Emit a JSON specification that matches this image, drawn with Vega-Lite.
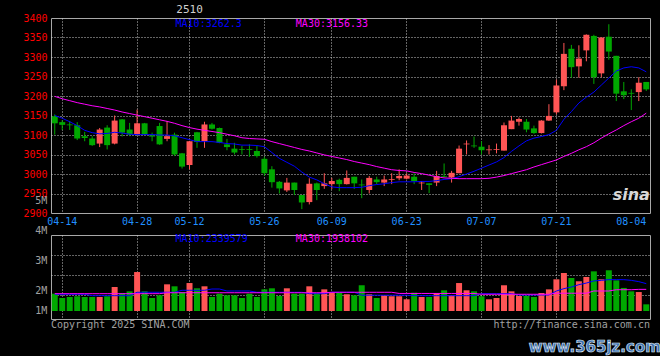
{
  "$schema": "https://vega.github.io/schema/vega-lite/v6.json",
  "background": "#000000",
  "padding": {"left": 22, "top": 3, "right": 0, "bottom": 0},
  "spacing": 22,
  "bounds": "flush",
  "config": {
    "view": {"stroke": "#A8A8A8", "strokeWidth": 1, "fill": "#000000"},
    "axis": {"labelFont": "DejaVu Sans Mono", "labelFontSize": 10, "ticks": false, "domain": false, "title": null, "gridColor": "#C8C8C8", "gridDash": [1, 2], "gridWidth": 1, "labelOverlap": false, "labelFlush": false},
    "text": {"font": "DejaVu Sans Mono", "fontSize": 10}
  },
  "datasets": {
    "k": [
      {"d":"04-11","o":3148,"h":3153,"l":3101,"c":3130,"v":1.48,"m10":3150,"m30":3199,"vm10":1.43,"vm30":1.48},
      {"d":"04-14","o":3133,"h":3138,"l":3113,"c":3126,"v":1.11,"m10":3143,"m30":3193,"vm10":1.43,"vm30":1.48},
      {"d":"04-15","o":3127,"h":3136,"l":3113,"c":3125,"v":1.20,"m10":3134,"m30":3188,"vm10":1.43,"vm30":1.48},
      {"d":"04-16","o":3125,"h":3133,"l":3087,"c":3091,"v":1.26,"m10":3124,"m30":3183,"vm10":1.43,"vm30":1.48},
      {"d":"04-17","o":3097,"h":3108,"l":3084,"c":3092,"v":1.20,"m10":3112,"m30":3179,"vm10":1.43,"vm30":1.48},
      {"d":"04-18","o":3091,"h":3097,"l":3072,"c":3074,"v":1.20,"m10":3106,"m30":3175,"vm10":1.31,"vm30":1.48},
      {"d":"04-21","o":3078,"h":3118,"l":3069,"c":3114,"v":1.20,"m10":3103,"m30":3172,"vm10":1.31,"vm30":1.48},
      {"d":"04-22","o":3119,"h":3125,"l":3063,"c":3074,"v":1.26,"m10":3104,"m30":3168,"vm10":1.31,"vm30":1.48},
      {"d":"04-23","o":3078,"h":3150,"l":3076,"c":3137,"v":2.05,"m10":3107,"m30":3164,"vm10":1.31,"vm30":1.48},
      {"d":"04-24","o":3140,"h":3141,"l":3096,"c":3106,"v":1.54,"m10":3105,"m30":3159,"vm10":1.31,"vm30":1.48},
      {"d":"04-25","o":3114,"h":3131,"l":3097,"c":3101,"v":1.68,"m10":3102,"m30":3155,"vm10":1.31,"vm30":1.48},
      {"d":"04-28","o":3102,"h":3165,"l":3100,"c":3130,"v":3.33,"m10":3101,"m30":3151,"vm10":1.60,"vm30":1.48},
      {"d":"04-29","o":3130,"h":3131,"l":3100,"c":3101,"v":1.68,"m10":3101,"m30":3147,"vm10":1.60,"vm30":1.48},
      {"d":"04-30","o":3099,"h":3106,"l":3084,"c":3096,"v":1.11,"m10":3101,"m30":3143,"vm10":1.60,"vm30":1.48},
      {"d":"05-06","o":3123,"h":3131,"l":3075,"c":3076,"v":1.34,"m10":3100,"m30":3139,"vm10":1.60,"vm30":1.48},
      {"d":"05-07","o":3090,"h":3136,"l":3084,"c":3097,"v":2.28,"m10":3100,"m30":3135,"vm10":1.60,"vm30":1.56},
      {"d":"05-08","o":3101,"h":3106,"l":3046,"c":3050,"v":2.11,"m10":3098,"m30":3130,"vm10":1.60,"vm30":1.56},
      {"d":"05-09","o":3053,"h":3054,"l":3014,"c":3019,"v":1.62,"m10":3093,"m30":3124,"vm10":1.77,"vm30":1.56},
      {"d":"05-12","o":3023,"h":3085,"l":3012,"c":3084,"v":2.39,"m10":3088,"m30":3119,"vm10":1.77,"vm30":1.56},
      {"d":"05-13","o":3107,"h":3108,"l":3067,"c":3082,"v":1.94,"m10":3083,"m30":3115,"vm10":1.77,"vm30":1.56},
      {"d":"05-14","o":3084,"h":3134,"l":3067,"c":3127,"v":2.11,"m10":3083,"m30":3112,"vm10":1.77,"vm30":1.56},
      {"d":"05-15","o":3127,"h":3131,"l":3114,"c":3116,"v":1.20,"m10":3083,"m30":3109,"vm10":1.88,"vm30":1.56},
      {"d":"05-16","o":3118,"h":3119,"l":3079,"c":3080,"v":1.48,"m10":3081,"m30":3106,"vm10":1.88,"vm30":1.56},
      {"d":"05-19","o":3076,"h":3090,"l":3061,"c":3069,"v":1.34,"m10":3078,"m30":3102,"vm10":1.71,"vm30":1.56},
      {"d":"05-20","o":3065,"h":3080,"l":3050,"c":3055,"v":1.34,"m10":3077,"m30":3098,"vm10":1.71,"vm30":1.56},
      {"d":"05-21","o":3064,"h":3072,"l":3050,"c":3062,"v":1.11,"m10":3074,"m30":3093,"vm10":1.71,"vm30":1.56},
      {"d":"05-22","o":3064,"h":3076,"l":3044,"c":3062,"v":1.48,"m10":3074,"m30":3091,"vm10":1.71,"vm30":1.56},
      {"d":"05-23","o":3059,"h":3072,"l":3042,"c":3046,"v":1.20,"m10":3073,"m30":3090,"vm10":1.60,"vm30":1.56},
      {"d":"05-26","o":3039,"h":3044,"l":2995,"c":3002,"v":1.85,"m10":3070,"m30":3089,"vm10":1.60,"vm30":1.56},
      {"d":"05-27","o":3012,"h":3020,"l":2965,"c":2979,"v":1.94,"m10":3055,"m30":3083,"vm10":1.60,"vm30":1.56},
      {"d":"05-28","o":2980,"h":2982,"l":2950,"c":2963,"v":1.28,"m10":3040,"m30":3078,"vm10":1.60,"vm30":1.56},
      {"d":"05-29","o":2958,"h":2990,"l":2954,"c":2978,"v":1.94,"m10":3030,"m30":3073,"vm10":1.60,"vm30":1.56},
      {"d":"05-30","o":2978,"h":2978,"l":2946,"c":2959,"v":1.48,"m10":3020,"m30":3068,"vm10":1.60,"vm30":1.56},
      {"d":"06-03","o":2946,"h":2946,"l":2910,"c":2927,"v":1.48,"m10":3005,"m30":3063,"vm10":1.60,"vm30":1.56},
      {"d":"06-04","o":2928,"h":2989,"l":2922,"c":2975,"v":2.11,"m10":2992,"m30":3059,"vm10":1.48,"vm30":1.56},
      {"d":"06-05","o":2976,"h":2978,"l":2933,"c":2959,"v":1.54,"m10":2985,"m30":3054,"vm10":1.48,"vm30":1.56},
      {"d":"06-06","o":2969,"h":3002,"l":2962,"c":2976,"v":1.85,"m10":2975,"m30":3049,"vm10":1.48,"vm30":1.56},
      {"d":"06-09","o":2974,"h":2990,"l":2961,"c":2982,"v":1.62,"m10":2967,"m30":3045,"vm10":1.60,"vm30":1.60},
      {"d":"06-10","o":2985,"h":2988,"l":2956,"c":2974,"v":1.54,"m10":2965,"m30":3041,"vm10":1.60,"vm30":1.60},
      {"d":"06-11","o":2974,"h":3009,"l":2973,"c":2990,"v":1.43,"m10":2965,"m30":3037,"vm10":1.60,"vm30":1.60},
      {"d":"06-12","o":2993,"h":2993,"l":2962,"c":2976,"v":1.34,"m10":2965,"m30":3032,"vm10":1.60,"vm30":1.60},
      {"d":"06-13","o":2973,"h":2986,"l":2938,"c":2971,"v":2.20,"m10":2966,"m30":3028,"vm10":1.35,"vm30":1.60},
      {"d":"06-16","o":2959,"h":2995,"l":2950,"c":2990,"v":1.43,"m10":2970,"m30":3024,"vm10":1.35,"vm30":1.60},
      {"d":"06-17","o":2986,"h":2993,"l":2974,"c":2979,"v":1.11,"m10":2973,"m30":3019,"vm10":1.35,"vm30":1.60},
      {"d":"06-18","o":2978,"h":2996,"l":2969,"c":2986,"v":1.34,"m10":2975,"m30":3015,"vm10":1.35,"vm30":1.60},
      {"d":"06-19","o":2985,"h":3002,"l":2974,"c":2987,"v":1.26,"m10":2978,"m30":3011,"vm10":1.35,"vm30":1.60},
      {"d":"06-20","o":2989,"h":3012,"l":2984,"c":2995,"v":1.26,"m10":2980,"m30":3009,"vm10":1.35,"vm30":1.50},
      {"d":"06-23","o":2988,"h":3002,"l":2986,"c":2996,"v":1.00,"m10":2980,"m30":3008,"vm10":1.35,"vm30":1.50},
      {"d":"06-24","o":2993,"h":3002,"l":2974,"c":2982,"v":1.56,"m10":2980,"m30":3004,"vm10":1.31,"vm30":1.50},
      {"d":"06-25","o":2976,"h":2982,"l":2959,"c":2978,"v":1.20,"m10":2981,"m30":3001,"vm10":1.31,"vm30":1.50},
      {"d":"06-26","o":2976,"h":2976,"l":2951,"c":2972,"v":1.20,"m10":2981,"m30":2997,"vm10":1.31,"vm30":1.50},
      {"d":"06-27","o":2978,"h":3008,"l":2969,"c":2995,"v":1.54,"m10":2983,"m30":2993,"vm10":1.31,"vm30":1.50},
      {"d":"06-30","o":2995,"h":3027,"l":2991,"c":2993,"v":1.77,"m10":2986,"m30":2990,"vm10":1.31,"vm30":1.50},
      {"d":"07-01","o":2991,"h":3008,"l":2978,"c":3003,"v":1.34,"m10":2988,"m30":2989,"vm10":1.31,"vm30":1.50},
      {"d":"07-02","o":3002,"h":3073,"l":3002,"c":3065,"v":2.39,"m10":2993,"m30":2988,"vm10":1.31,"vm30":1.50},
      {"d":"07-03","o":3076,"h":3086,"l":3050,"c":3078,"v":1.77,"m10":3000,"m30":2988,"vm10":1.31,"vm30":1.50},
      {"d":"07-04","o":3073,"h":3096,"l":3067,"c":3071,"v":1.68,"m10":3007,"m30":2988,"vm10":1.31,"vm30":1.50},
      {"d":"07-07","o":3070,"h":3084,"l":3050,"c":3061,"v":1.26,"m10":3015,"m30":2988,"vm10":1.48,"vm30":1.43},
      {"d":"07-08","o":3061,"h":3074,"l":3050,"c":3063,"v":1.00,"m10":3023,"m30":2989,"vm10":1.48,"vm30":1.43},
      {"d":"07-09","o":3062,"h":3078,"l":3053,"c":3064,"v":1.11,"m10":3031,"m30":2992,"vm10":1.48,"vm30":1.43},
      {"d":"07-10","o":3060,"h":3132,"l":3060,"c":3125,"v":2.20,"m10":3042,"m30":2996,"vm10":1.48,"vm30":1.43},
      {"d":"07-11","o":3115,"h":3149,"l":3115,"c":3137,"v":1.68,"m10":3058,"m30":3001,"vm10":1.48,"vm30":1.43},
      {"d":"07-14","o":3134,"h":3145,"l":3124,"c":3141,"v":1.28,"m10":3072,"m30":3006,"vm10":1.37,"vm30":1.43},
      {"d":"07-15","o":3134,"h":3141,"l":3107,"c":3114,"v":1.28,"m10":3085,"m30":3011,"vm10":1.37,"vm30":1.43},
      {"d":"07-16","o":3117,"h":3124,"l":3103,"c":3105,"v":1.20,"m10":3092,"m30":3018,"vm10":1.37,"vm30":1.43},
      {"d":"07-17","o":3105,"h":3138,"l":3104,"c":3137,"v":1.54,"m10":3096,"m30":3024,"vm10":1.37,"vm30":1.43},
      {"d":"07-18","o":3137,"h":3179,"l":3136,"c":3149,"v":1.85,"m10":3101,"m30":3030,"vm10":1.37,"vm30":1.43},
      {"d":"07-21","o":3158,"h":3242,"l":3153,"c":3227,"v":2.71,"m10":3112,"m30":3036,"vm10":1.71,"vm30":1.52},
      {"d":"07-22","o":3225,"h":3336,"l":3215,"c":3308,"v":3.25,"m10":3140,"m30":3045,"vm10":1.91,"vm30":1.52},
      {"d":"07-23","o":3321,"h":3331,"l":3247,"c":3274,"v":2.82,"m10":3160,"m30":3053,"vm10":2.05,"vm30":1.52},
      {"d":"07-24","o":3276,"h":3330,"l":3247,"c":3296,"v":2.54,"m10":3182,"m30":3062,"vm10":2.25,"vm30":1.52},
      {"d":"07-25","o":3317,"h":3358,"l":3289,"c":3357,"v":2.91,"m10":3197,"m30":3070,"vm10":2.39,"vm30":1.52},
      {"d":"07-28","o":3354,"h":3357,"l":3231,"c":3248,"v":3.39,"m10":3210,"m30":3080,"vm10":2.57,"vm30":1.71},
      {"d":"07-29","o":3258,"h":3350,"l":3248,"c":3350,"v":2.71,"m10":3228,"m30":3092,"vm10":2.62,"vm30":1.71},
      {"d":"07-30","o":3352,"h":3384,"l":3293,"c":3314,"v":3.48,"m10":3246,"m30":3103,"vm10":2.68,"vm30":1.71},
      {"d":"07-31","o":3303,"h":3303,"l":3187,"c":3206,"v":2.62,"m10":3264,"m30":3113,"vm10":2.68,"vm30":1.82},
      {"d":"08-01","o":3212,"h":3236,"l":3192,"c":3202,"v":1.97,"m10":3272,"m30":3124,"vm10":2.68,"vm30":1.82},
      {"d":"08-04","o":3208,"h":3217,"l":3164,"c":3206,"v":1.68,"m10":3275,"m30":3134,"vm10":2.62,"vm30":1.82},
      {"d":"08-05","o":3210,"h":3248,"l":3187,"c":3234,"v":1.62,"m10":3272,"m30":3143,"vm10":2.51,"vm30":1.85},
      {"d":"08-06","o":3236,"h":3236,"l":3213,"c":3217,"v":0.57,"m10":3262,"m30":3156,"vm10":2.34,"vm30":1.85}
    ],
    "vlab": [
      {"t": "1M", "v": 0},
      {"t": "2M", "v": 1.71},
      {"t": "3M", "v": 4.27},
      {"t": "4M", "v": 6.84},
      {"t": "5M", "v": 9.4}
    ]
  },
  "vconcat": [
    {
      "width": 599,
      "height": 195,
      "encoding": {
        "x": {
          "field": "d", "type": "ordinal", "sort": null,
          "scale": {"type": "band", "paddingInner": 0.2, "paddingOuter": 0.1},
          "axis": {
            "values": ["04-14","04-28","05-12","05-26","06-09","06-23","07-07","07-21","08-04"],
            "labelColor": "#2090FF", "labelAngle": 0, "labelPadding": 3, "grid": true,
            "gridOpacity": {"condition": {"test": "datum.value === '08-04'", "value": 0}, "value": 1}
          }
        }
      },
      "layer": [
        {
          "data": {"name": "k"},
          "mark": {"type": "rule", "strokeWidth": 1},
          "encoding": {
            "y": {"field": "l", "type": "quantitative", "scale": {"domain": [2900, 3400], "nice": false, "zero": false},
              "axis": {"values": [2900,2950,3000,3050,3100,3150,3200,3250,3300,3350,3400], "format": "d", "labelColor": "#FF0000", "labelPadding": 4, "labelOverlap": false, "grid": true,
                "gridOpacity": {"condition": {"test": "datum.value == 2900 || datum.value == 3400", "value": 0}, "value": 1}}},
            "y2": {"field": "h"},
            "color": {"condition": {"test": "datum.c >= datum.o", "value": "#FF5555"}, "value": "#00A800"}
          }
        },
        {
          "data": {"name": "k"},
          "mark": {"type": "bar"},
          "encoding": {
            "y": {"field": "o", "type": "quantitative",
              "axis": {"values": [2900,2950,3000,3050,3100,3150,3200,3250,3300,3350,3400], "format": "d", "labelColor": "#FF0000", "labelPadding": 4, "labelOverlap": false, "grid": true,
                "gridOpacity": {"condition": {"test": "datum.value == 2900 || datum.value == 3400", "value": 0}, "value": 1}}},
            "y2": {"field": "c"},
            "color": {"condition": {"test": "datum.c >= datum.o", "value": "#FF5555"}, "value": "#00A800"}
          }
        },
        {
          "data": {"name": "k"},
          "mark": {"type": "line", "color": "#0000FF", "strokeWidth": 1},
          "encoding": {"y": {"field": "m10", "type": "quantitative",
              "axis": {"values": [2900,2950,3000,3050,3100,3150,3200,3250,3300,3350,3400], "format": "d", "labelColor": "#FF0000", "labelPadding": 4, "labelOverlap": false, "grid": true,
                "gridOpacity": {"condition": {"test": "datum.value == 2900 || datum.value == 3400", "value": 0}, "value": 1}}}}
        },
        {
          "data": {"name": "k"},
          "mark": {"type": "line", "color": "#FF00FF", "strokeWidth": 1},
          "encoding": {"y": {"field": "m30", "type": "quantitative",
              "axis": {"values": [2900,2950,3000,3050,3100,3150,3200,3250,3300,3350,3400], "format": "d", "labelColor": "#FF0000", "labelPadding": 4, "labelOverlap": false, "grid": true,
                "gridOpacity": {"condition": {"test": "datum.value == 2900 || datum.value == 3400", "value": 0}, "value": 1}}}}
        },
        {
          "data": {"values": [{}]},
          "mark": {"type": "text", "align": "center", "baseline": "middle", "dy": -8, "color": "#D0D0D0", "fontSize": 11},
          "encoding": {"x": {"datum": "05-12", "type": "ordinal"}, "y": {"datum": 3400, "type": "quantitative",
              "axis": {"values": [2900,2950,3000,3050,3100,3150,3200,3250,3300,3350,3400], "format": "d", "labelColor": "#FF0000", "labelPadding": 4, "labelOverlap": false, "grid": true,
                "gridOpacity": {"condition": {"test": "datum.value == 2900 || datum.value == 3400", "value": 0}, "value": 1}}}, "text": {"value": "2510"}}
        },
        {
          "data": {"values": [{}]},
          "mark": {"type": "text", "align": "left", "baseline": "middle", "dy": 6, "dx": 1, "color": "#0000FF"},
          "encoding": {"x": {"datum": "05-08", "type": "ordinal"}, "y": {"datum": 3400, "type": "quantitative",
              "axis": {"values": [2900,2950,3000,3050,3100,3150,3200,3250,3300,3350,3400], "format": "d", "labelColor": "#FF0000", "labelPadding": 4, "labelOverlap": false, "grid": true,
                "gridOpacity": {"condition": {"test": "datum.value == 2900 || datum.value == 3400", "value": 0}, "value": 1}}}, "text": {"value": "MA10:3262.3"}}
        },
        {
          "data": {"values": [{}]},
          "mark": {"type": "text", "align": "left", "baseline": "middle", "dy": 6, "dx": 1.5, "color": "#FF00FF"},
          "encoding": {"x": {"datum": "05-30", "type": "ordinal"}, "y": {"datum": 3400, "type": "quantitative",
              "axis": {"values": [2900,2950,3000,3050,3100,3150,3200,3250,3300,3350,3400], "format": "d", "labelColor": "#FF0000", "labelPadding": 4, "labelOverlap": false, "grid": true,
                "gridOpacity": {"condition": {"test": "datum.value == 2900 || datum.value == 3400", "value": 0}, "value": 1}}}, "text": {"value": "MA30:3156.33"}}
        },
        {
          "data": {"values": [{}]},
          "mark": {"type": "text", "align": "center", "baseline": "middle", "font": "DejaVu Sans", "fontSize": 16, "fontWeight": "bold", "fontStyle": "italic", "color": "#D8D8D8"},
          "encoding": {"x": {"datum": "08-04", "type": "ordinal"}, "y": {"datum": 2947, "type": "quantitative",
              "axis": {"values": [2900,2950,3000,3050,3100,3150,3200,3250,3300,3350,3400], "format": "d", "labelColor": "#FF0000", "labelPadding": 4, "labelOverlap": false, "grid": true,
                "gridOpacity": {"condition": {"test": "datum.value == 2900 || datum.value == 3400", "value": 0}, "value": 1}}}, "text": {"value": "sina"}}
        }
      ]
    },
    {
      "width": 599,
      "height": 84,
      "encoding": {
        "x": {
          "field": "d", "type": "ordinal", "sort": null,
          "scale": {"type": "band", "paddingInner": 0.2, "paddingOuter": 0.1},
          "axis": {
            "values": ["04-14","04-28","05-12","05-26","06-09","06-23","07-07","07-21"],
            "labels": false, "grid": true
          }
        }
      },
      "layer": [
        {
          "data": {"name": "k"},
          "mark": {"type": "bar"},
          "encoding": {
            "y": {"field": "v", "type": "quantitative", "scale": {"domain": [-0.684, 6.496], "nice": false, "zero": false},
              "axis": {"values": [1.34, 3.05, 4.76], "labels": false, "grid": true}},
            "y2": {"datum": 0},
            "color": {"condition": {"test": "datum.c >= datum.o", "value": "#FF5555"}, "value": "#00A800"}
          }
        },
        {
          "data": {"name": "k"},
          "mark": {"type": "line", "color": "#0000FF", "strokeWidth": 1},
          "encoding": {"y": {"field": "vm10", "type": "quantitative", "axis": {"values": [1.34, 3.05, 4.76], "labels": false, "grid": true}}}
        },
        {
          "data": {"name": "k"},
          "mark": {"type": "line", "color": "#FF00FF", "strokeWidth": 1},
          "encoding": {"y": {"field": "vm30", "type": "quantitative", "axis": {"values": [1.34, 3.05, 4.76], "labels": false, "grid": true}}}
        },
        {
          "data": {"name": "vlab"},
          "mark": {"type": "text", "align": "right", "baseline": "middle", "dx": -7.5, "color": "#A0A0A0", "fontSize": 10},
          "encoding": {"x": {"datum": "04-11", "type": "ordinal"}, "y": {"field": "v", "type": "quantitative", "axis": {"values": [1.34, 3.05, 4.76], "labels": false, "grid": true}}, "text": {"field": "t"}}
        },
        {
          "data": {"values": [{}]},
          "mark": {"type": "text", "align": "left", "baseline": "middle", "dy": 4, "dx": 1, "color": "#0000FF"},
          "encoding": {"x": {"datum": "05-08", "type": "ordinal"}, "y": {"datum": 6.496, "type": "quantitative", "axis": {"values": [1.34, 3.05, 4.76], "labels": false, "grid": true}}, "text": {"value": "MA10:2339579"}}
        },
        {
          "data": {"values": [{}]},
          "mark": {"type": "text", "align": "left", "baseline": "middle", "dy": 4, "dx": 1.5, "color": "#FF00FF"},
          "encoding": {"x": {"datum": "05-30", "type": "ordinal"}, "y": {"datum": 6.496, "type": "quantitative", "axis": {"values": [1.34, 3.05, 4.76], "labels": false, "grid": true}}, "text": {"value": "MA30:1938102"}}
        },
        {
          "data": {"values": [{}]},
          "mark": {"type": "text", "align": "left", "baseline": "top", "dy": 0.5, "dx": -3.7, "color": "#A0A0A0"},
          "encoding": {"x": {"datum": "04-11", "type": "ordinal"}, "y": {"datum": -0.684, "type": "quantitative", "axis": {"values": [1.34, 3.05, 4.76], "labels": false, "grid": true}}, "text": {"value": "Copyright 2025 SINA.COM"}}
        },
        {
          "data": {"values": [{}]},
          "mark": {"type": "text", "align": "right", "baseline": "top", "dy": 0.5, "dx": 3.7, "color": "#A0A0A0"},
          "encoding": {"x": {"datum": "08-06", "type": "ordinal"}, "y": {"datum": -0.684, "type": "quantitative", "axis": {"values": [1.34, 3.05, 4.76], "labels": false, "grid": true}}, "text": {"value": "http://finance.sina.com.cn"}}
        },
        {
          "data": {"values": [{}]},
          "mark": {"type": "text", "align": "center", "baseline": "middle", "dx": 1, "font": "DejaVu Sans", "fontSize": 15, "fontWeight": "bold", "color": "#3E6FB0", "stroke": "#DDE6F0", "strokeWidth": 0.7},
          "encoding": {"x": {"datum": "07-28", "type": "ordinal"}, "y": {"datum": -3.08, "type": "quantitative", "axis": {"values": [1.34, 3.05, 4.76], "labels": false, "grid": true}}, "text": {"value": "www.365jz.com"}}
        }
      ]
    }
  ]
}
